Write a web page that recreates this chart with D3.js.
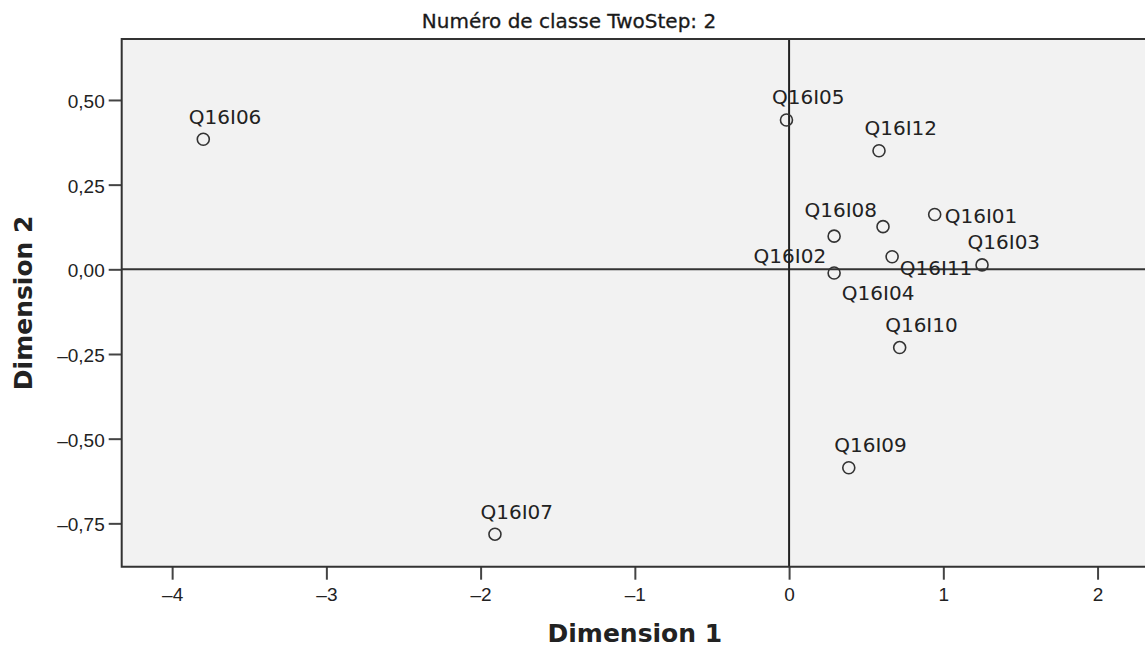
<!DOCTYPE html>
<html>
<head>
<meta charset="utf-8">
<script src="https://cdn.jsdelivr.net/npm/d3@7"></script>
<style>
  body { margin: 0; background: #fff; }
  svg { display: block; font-family: "DejaVu Sans", sans-serif; }
  .tick text { fill: #222; }
</style>
</head>
<body>
<div id="chart-div"></div>
<script>
// values
var itemLabels = ["Q16I01", "Q16I02", "Q16I03", "Q16I04", "Q16I05", "Q16I06",
                  "Q16I07", "Q16I08", "Q16I09", "Q16I10", "Q16I11", "Q16I12"];
var dim1 = [0.944, 0.292, 1.251, 0.292, -0.017, -3.798, -1.907, 0.609, 0.387, 0.717, 0.668, 0.583];
var dim2 = [0.162, 0.098, 0.013, -0.011, 0.441, 0.384, -0.782, 0.126, -0.586, -0.231, 0.037, 0.350];
var xTicks = [-4, -3, -2, -1, 0, 1, 2];
var yTicks = [0.5, 0.25, 0, -0.25, -0.5, -0.75];
var chartTitle = "Numéro de classe TwoStep: 2";
var xTitle = "Dimension 1";
var yTitle = "Dimension 2";

var width = 1145, height = 649;
var margin = {top: 39, right: -3, bottom: 82.3, left: 121.7};
var innerW = width - margin.left - margin.right;
var innerH = height - margin.top - margin.bottom;

var svg = d3.select("#chart-div").append("svg")
  .attr("width", width)
  .attr("height", height);

var x = d3.scaleLinear().domain([-4.327, 2.327]).range([0, innerW]);
var y = d3.scaleLinear().domain([0.680, -0.878]).range([0, innerH]);

var g = svg.append("g")
  .attr("transform", "translate(" + margin.left + "," + margin.top + ")");

g.append("rect")
  .attr("width", innerW)
  .attr("height", innerH)
  .attr("fill", "#f2f2f2");

// reference lines through the origin
g.append("line")
  .attr("x1", 0).attr("x2", innerW)
  .attr("y1", y(0)).attr("y2", y(0))
  .attr("stroke", "#333").attr("stroke-width", 2);
g.append("line")
  .attr("x1", x(0)).attr("x2", x(0))
  .attr("y1", 0).attr("y2", innerH)
  .attr("stroke", "#222").attr("stroke-width", 2);

var commaFmt = function(d) { return d3.format(".2f")(d).replace(".", ",").replace("−", "–"); };

var yAxis = g.append("g")
  .call(d3.axisLeft(y).tickValues(yTicks).tickSize(13).tickPadding(4).tickFormat(commaFmt));
yAxis.selectAll("text").style("font-size", "19px").attr("dy", "0.4em");

var xAxis = g.append("g")
  .attr("transform", "translate(0," + innerH + ")")
  .call(d3.axisBottom(x).tickValues(xTicks).tickSize(13).tickPadding(8)
    .tickFormat(function(d) { return String(d).replace("-", "–"); }));
xAxis.selectAll("text").style("font-size", "19px");

g.selectAll(".domain").remove();
g.selectAll(".tick line").attr("stroke", "#444").attr("stroke-width", 2);

// frame: left, top, bottom
g.append("path")
  .attr("d", "M" + innerW + ",0H0V" + innerH + "H" + innerW)
  .attr("fill", "none")
  .attr("stroke", "#333")
  .attr("stroke-width", 2);

// label placement (default is above the point)
var placement = {
  "Q16I01": {dx: 10, dy: 8.4, anchor: "start"},
  "Q16I02": {dx: -8, dy: 27, anchor: "end"},
  "Q16I04": {dx: 7.7, dy: 27, anchor: "start"},
  "Q16I08": {dx: -6, dy: -10, anchor: "end"},
  "Q16I11": {dx: 7.7, dy: 18.3, anchor: "start"}
};
var defaultPlace = {dx: -14.5, dy: -15.5, anchor: "start"};

var points = itemLabels.map(function(name, i) {
  return {name: name, d1: dim1[i], d2: dim2[i]};
});

var pt = g.append("g").selectAll("g")
  .data(points)
  .enter().append("g")
  .attr("transform", function(d) { return "translate(" + x(d.d1) + "," + y(d.d2) + ")"; });

pt.append("circle")
  .attr("r", 6)
  .attr("fill", "none")
  .attr("stroke", "#333")
  .attr("stroke-width", 1.6);

pt.append("text")
  .text(function(d) { return d.name; })
  .attr("x", function(d) { return (placement[d.name] || defaultPlace).dx; })
  .attr("y", function(d) { return (placement[d.name] || defaultPlace).dy; })
  .attr("text-anchor", function(d) { return (placement[d.name] || defaultPlace).anchor; })
  .style("font-size", "20px")
  .attr("fill", "#222");

// titles
svg.append("text")
  .attr("x", 569)
  .attr("y", 28.3)
  .attr("text-anchor", "middle")
  .style("font-size", "20px")
  .attr("fill", "#1a1a1a")
  .attr("stroke", "#1a1a1a")
  .attr("stroke-width", 0.3)
  .text(chartTitle);

svg.append("text")
  .attr("x", margin.left + innerW / 2)
  .attr("y", 642)
  .attr("text-anchor", "middle")
  .style("font-size", "25px")
  .style("font-weight", "bold")
  .attr("fill", "#222")
  .text(xTitle);

svg.append("text")
  .attr("transform", "translate(32," + (margin.top + innerH / 2) + ") rotate(-90)")
  .attr("text-anchor", "middle")
  .style("font-size", "25px")
  .style("font-weight", "bold")
  .attr("fill", "#222")
  .text(yTitle);
</script>
</body>
</html>
